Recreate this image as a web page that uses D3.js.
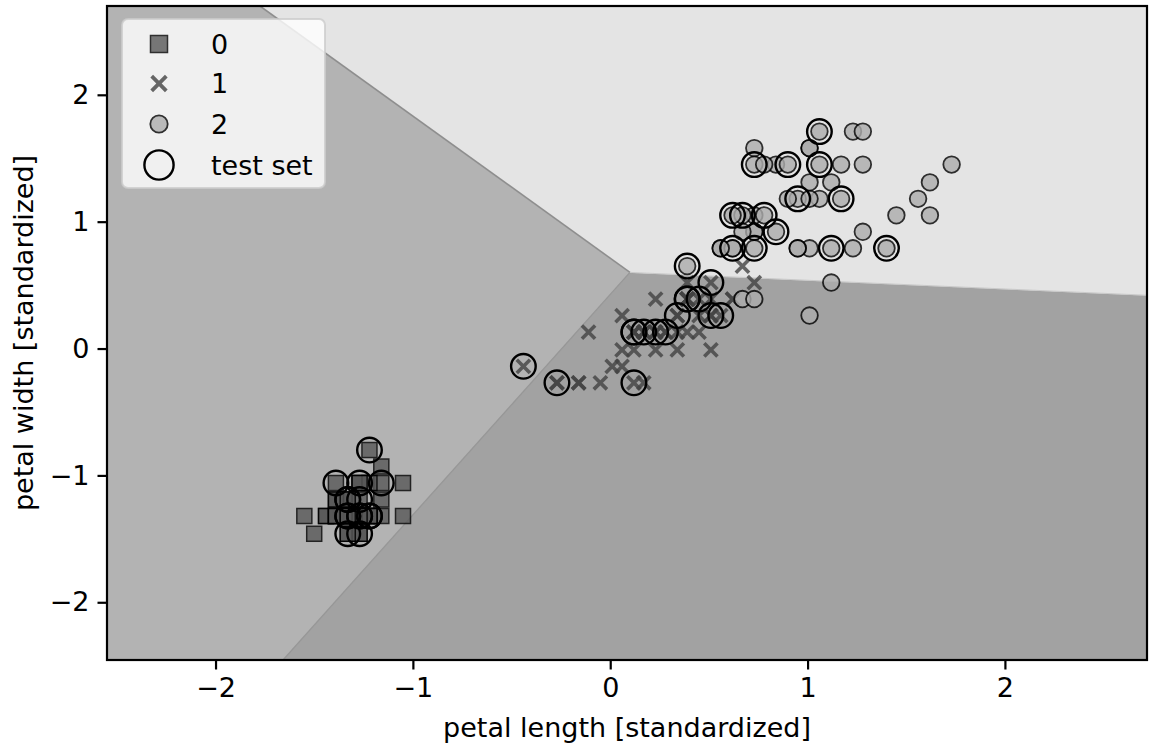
<!DOCTYPE html>
<html><head><meta charset="utf-8">
<script src="https://cdn.jsdelivr.net/npm/d3@7"></script>
<style>
html,body{margin:0;padding:0;background:#fff;}
svg{display:block;}
text{font-family:"DejaVu Sans",sans-serif;fill:#000;}
</style>
</head><body>
<svg id="chart" width="1152" height="752"></svg>
<script>
// ---------- data (standardized petal length / width) ----------
const classLabels = ["0", "1", "2"];
const setosaLength = [-1.33,-1.33,-1.39,-1.27,-1.33,-1.16,-1.33,-1.27,-1.33,-1.27,-1.27,-1.22,-1.33,-1.50,-1.44,-1.27,-1.39,-1.33,-1.16,-1.27,-1.16,-1.27,-1.55,-1.16,-1.05,-1.22,-1.22,-1.27,-1.33,-1.22,-1.22,-1.27,-1.27,-1.33,-1.27,-1.44,-1.39,-1.33,-1.39,-1.27,-1.39,-1.39,-1.39,-1.22,-1.05,-1.33,-1.22,-1.33,-1.27,-1.33];
const setosaWidth  = [-1.32,-1.32,-1.32,-1.32,-1.32,-1.06,-1.19,-1.32,-1.32,-1.46,-1.32,-1.32,-1.46,-1.46,-1.32,-1.06,-1.06,-1.19,-1.19,-1.19,-1.32,-1.06,-1.32,-0.93,-1.32,-1.32,-1.06,-1.32,-1.32,-1.32,-1.32,-1.06,-1.46,-1.32,-1.32,-1.32,-1.32,-1.46,-1.32,-1.32,-1.19,-1.19,-1.32,-0.80,-1.06,-1.19,-1.32,-1.32,-1.32,-1.32];
const versicolorLength = [0.51,0.39,0.62,0.12,0.45,0.39,0.51,-0.27,0.45,0.06,-0.16,0.23,0.12,0.51,-0.11,0.34,0.39,0.17,0.39,0.06,0.56,0.12,0.62,0.51,0.28,0.34,0.56,0.67,0.39,-0.16,0.01,-0.05,0.06,0.73,0.39,0.39,0.51,0.34,0.17,0.12,0.34,0.45,0.12,-0.27,0.23,0.23,0.23,0.28,-0.44,0.17];
const versicolorWidth  = [0.26,0.39,0.39,0.13,0.39,0.13,0.52,-0.27,0.13,0.26,-0.27,0.39,-0.27,0.26,0.13,0.26,0.39,-0.27,0.39,-0.14,0.79,0.13,0.39,-0.01,0.13,0.26,0.26,0.65,0.39,-0.27,-0.14,-0.27,-0.01,0.52,0.39,0.52,0.39,0.13,0.13,0.13,-0.01,0.26,-0.01,-0.27,0.13,-0.01,0.13,0.13,-0.14,0.13];
const virginicaLength = [1.23,0.73,1.17,1.01,1.12,1.56,0.39,1.40,1.12,1.28,0.73,0.84,0.95,0.67,0.73,0.84,0.95,1.62,1.73,0.67,1.06,0.62,1.62,0.62,1.06,1.23,0.56,0.62,1.01,1.12,1.28,1.45,1.01,0.73,1.01,1.28,1.01,0.95,0.56,0.90,1.01,0.73,0.73,1.17,1.06,0.78,0.67,0.78,0.90,0.73];
const virginicaWidth  = [1.71,0.92,1.18,0.79,1.31,1.18,0.65,0.79,0.79,1.71,1.05,0.92,1.18,1.05,1.58,1.45,0.79,1.31,1.45,0.39,1.45,1.05,1.05,0.79,1.18,0.79,0.79,0.79,1.18,0.52,0.92,1.05,1.31,0.39,0.26,1.45,1.58,0.79,0.79,1.18,1.58,1.45,0.92,1.45,1.71,1.45,0.92,1.05,1.45,0.79];
const testLength = [-1.22,-1.39,-1.27,-1.16,-1.33,-1.33,-1.27,-1.33,-1.33,-1.27,-1.27,-1.22,-1.22,-1.33,-1.27,
  -0.44,-0.27,0.12,0.12,0.12,0.17,0.23,0.28,0.34,0.51,0.56,0.39,0.39,0.45,0.51,
  1.06,0.73,0.90,1.06,0.95,1.17,0.62,0.67,0.78,0.84,0.62,0.73,1.12,1.40,0.39];
const testWidth = [-0.80,-1.06,-1.06,-1.06,-1.19,-1.19,-1.19,-1.32,-1.32,-1.32,-1.32,-1.32,-1.32,-1.46,-1.46,
  -0.14,-0.27,-0.27,0.13,0.13,0.13,0.13,0.13,0.26,0.26,0.26,0.39,0.39,0.39,0.52,
  1.71,1.45,1.45,1.45,1.18,1.18,1.05,1.05,1.05,0.92,0.79,0.79,0.79,0.79,0.65];

// decision-region geometry (data coordinates)
const xDomain = [-2.55, 2.72];
const yDomain = [-2.455, 2.70];
const junction = [0.10, 0.60];
const boundary02Top = [-1.775, 2.70];
const boundary01Bottom = [-1.658, -2.455];
const boundary12Right = [2.72, 0.42];

const xTicks = [-2, -1, 0, 1, 2];
const yTicks = [-2, -1, 0, 1, 2];
const xLabel = "petal length [standardized]";
const yLabel = "petal width [standardized]";
const legendLabels = ["0", "1", "2", "test set"];

// ---------- drawing ----------
const svg = d3.select("#chart");
const L = 107, R = 1147, T = 6, B = 660;
const x = d3.scaleLinear().domain(xDomain).range([L, R]);
const y = d3.scaleLinear().domain(yDomain).range([B, T]);
const fmt = d => d < 0 ? "\u2212" + Math.abs(d) : String(d);

svg.append("clipPath").attr("id", "clip").append("rect")
  .attr("x", L).attr("y", T).attr("width", R - L).attr("height", B - T);

const plot = svg.append("g").attr("clip-path", "url(#clip)");

const regionColors = ["#b3b3b3", "#a2a2a2", "#e4e4e4"];
const regions = [
  [[xDomain[0], yDomain[0]], boundary01Bottom, junction, boundary02Top, [xDomain[0], yDomain[1]]],
  [boundary01Bottom, [xDomain[1], yDomain[0]], boundary12Right, junction],
  [junction, boundary12Right, [xDomain[1], yDomain[1]], boundary02Top]
];
const line = d3.line().x(d => x(d[0])).y(d => y(d[1]));
plot.selectAll("path.region").data(regions).join("path")
  .attr("class", "region")
  .attr("d", d => line(d) + "Z")
  .attr("fill", (d, i) => regionColors[i])
  .attr("stroke", (d, i) => regionColors[i]).attr("stroke-width", 0.6);

// boundary edges (antialias seams)
plot.append("path").attr("d", line([junction, boundary02Top]))
  .attr("stroke", "#8e8e8e").attr("stroke-width", 1.6).attr("fill", "none");
plot.append("path").attr("d", line([junction, boundary01Bottom]))
  .attr("stroke", "#979797").attr("stroke-width", 1.3).attr("fill", "none");
plot.append("path").attr("d", line([junction, boundary12Right]))
  .attr("stroke", "#c9c9c9").attr("stroke-width", 1.0).attr("fill", "none");

const zip = (a, b) => a.map((v, i) => [v, b[i]]);
const c0 = zip(setosaLength, setosaWidth);
const c1 = zip(versicolorLength, versicolorWidth);
const c2 = zip(virginicaLength, virginicaWidth);
const tst = zip(testLength, testWidth);

const sq = 15;
plot.append("g").selectAll("rect").data(c0).join("rect")
  .attr("x", d => x(d[0]) - sq / 2).attr("y", d => y(d[1]) - sq / 2)
  .attr("width", sq).attr("height", sq)
  .attr("fill", "#585858").attr("stroke", "#000").attr("stroke-width", 1.5)
  .attr("opacity", 0.8);

const xs = 6.6;
const xPath = `M${-xs},${-xs}L${xs},${xs}M${-xs},${xs}L${xs},${-xs}`;
plot.append("g").selectAll("path").data(c1).join("path")
  .attr("transform", d => `translate(${x(d[0])},${y(d[1])})`)
  .attr("d", xPath)
  .attr("fill", "none").attr("stroke", "#424242").attr("stroke-width", 3.6)
  .attr("opacity", 0.8);

plot.append("g").selectAll("circle").data(c2).join("circle")
  .attr("cx", d => x(d[0])).attr("cy", d => y(d[1])).attr("r", 8.3)
  .attr("fill", "#adadad").attr("stroke", "#000").attr("stroke-width", 1.8)
  .attr("opacity", 0.8);

plot.append("g").selectAll("circle").data(tst).join("circle")
  .attr("cx", d => x(d[0])).attr("cy", d => y(d[1])).attr("r", 12.3)
  .attr("fill", "none").attr("stroke", "#000").attr("stroke-width", 2.4);

// axes
const xAxis = svg.append("g").attr("transform", `translate(0,${B})`)
  .call(d3.axisBottom(x).tickValues(xTicks).tickSize(9.5).tickPadding(8).tickFormat(fmt));
const yAxis = svg.append("g").attr("transform", `translate(${L},0)`)
  .call(d3.axisLeft(y).tickValues(yTicks).tickSize(9.5).tickPadding(8).tickFormat(fmt));
[xAxis, yAxis].forEach(a => {
  a.select(".domain").remove();
  a.selectAll(".tick line").attr("stroke", "#000").attr("stroke-width", 2.2);
  a.selectAll(".tick text").attr("font-size", 27).attr("font-family", "DejaVu Sans").attr("fill", "#000");
});

svg.append("rect").attr("x", L).attr("y", T).attr("width", R - L).attr("height", B - T)
  .attr("fill", "none").attr("stroke", "#000").attr("stroke-width", 2.2);

svg.append("text").attr("x", (L + R) / 2).attr("y", 737).attr("text-anchor", "middle")
  .attr("font-size", 27).text(xLabel);
svg.append("text").attr("transform", `translate(33,${(T + B) / 2}) rotate(-90)`)
  .attr("text-anchor", "middle").attr("font-size", 27).text(yLabel);

// legend
const lg = svg.append("g");
lg.append("rect").attr("x", 122).attr("y", 19).attr("width", 203).attr("height", 169).attr("rx", 6)
  .attr("fill", "#fff").attr("fill-opacity", 0.8).attr("stroke", "#cccccc").attr("stroke-opacity", 0.8).attr("stroke-width", 2);
const rows = [44, 83.5, 124, 165];
const mx = 159;
lg.append("rect").attr("x", mx - 8.5).attr("y", rows[0] - 8.5).attr("width", 17).attr("height", 17)
  .attr("fill", "#585858").attr("stroke", "#000").attr("stroke-width", 1.5).attr("opacity", 0.8);
lg.append("path").attr("transform", `translate(${mx},${rows[1]})`)
  .attr("d", `M-7.3,-7.3L7.3,7.3M-7.3,7.3L7.3,-7.3`)
  .attr("stroke", "#424242").attr("stroke-width", 3.8).attr("fill", "none").attr("opacity", 0.8);
lg.append("circle").attr("cx", mx).attr("cy", rows[2]).attr("r", 8.7)
  .attr("fill", "#adadad").attr("stroke", "#000").attr("stroke-width", 1.8).attr("opacity", 0.8);
lg.append("circle").attr("cx", mx).attr("cy", rows[3]).attr("r", 14.6)
  .attr("fill", "none").attr("stroke", "#000").attr("stroke-width", 2.4);
lg.selectAll("text").data(legendLabels).join("text")
  .attr("x", 211).attr("y", (d, i) => rows[i] + 9.5)
  .attr("font-size", 27).text(d => d);
</script>
</body></html>
